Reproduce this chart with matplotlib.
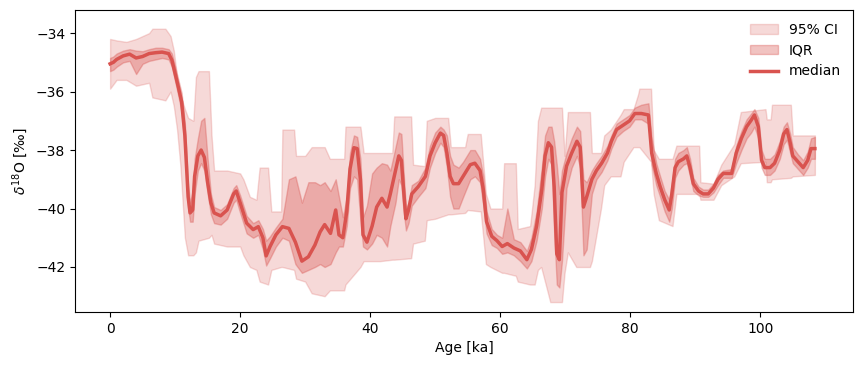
import matplotlib
matplotlib.use("Agg")
import matplotlib.pyplot as plt
import numpy as np

# ── Median + IQR (same age grid) ─────────────────────────────────────────────
AGE = [0.0, 0.5, 1.0, 2.0, 3.0, 4.0, 5.0, 6.0, 7.0, 8.0, 9.0, 9.5, 10.0, 10.5, 11.0, 11.5,
       12.0, 12.3, 12.7, 13.0, 13.5, 14.0, 14.5, 15.0, 15.5, 16.0, 17.0, 18.0, 19.0, 19.4,
       20.0, 21.0, 22.0, 22.8, 23.5, 24.0, 24.6, 25.5, 26.5, 27.5, 28.5, 29.5, 30.5, 31.5,
       32.3, 33.0, 33.9, 34.7, 35.2, 35.8, 36.4, 36.9, 37.5, 38.0, 38.5, 38.9, 39.5, 40.3,
       41.0, 41.8, 42.6, 43.1, 43.9, 44.4, 44.8, 45.1, 45.5, 45.9, 46.4, 47.4, 48.5, 49.2,
       50.0, 50.8, 51.3, 51.8, 52.3, 52.8, 53.6, 54.3, 55.4, 56.1, 56.9, 57.4, 57.9, 58.7,
       59.5, 60.3, 61.1, 62.1, 63.1, 64.1, 64.8, 65.6, 66.4, 66.9, 67.4, 67.9, 68.3, 68.7,
       69.1, 69.5, 70.2, 71.0, 71.8, 72.3, 72.8, 73.3, 74.1, 74.8, 75.6, 76.5, 77.1, 77.9,
       78.9, 79.9, 80.7, 81.7, 82.8, 83.3, 84.0, 84.6, 85.3, 86.0, 86.4, 86.9, 87.4, 88.2,
       88.7, 89.2, 89.7, 90.5, 91.2, 92.0, 92.8, 93.5, 94.3, 95.6, 96.3, 97.1, 97.9, 98.6,
       99.1, 99.7, 100.2, 100.7, 101.5, 102.2, 103.0, 103.6, 104.1, 104.6, 105.0, 105.8,
       106.6, 107.3, 107.8, 108.4]

MEDIAN = [-35.05, -35.0, -34.9, -34.78, -34.72, -34.85, -34.8, -34.7, -34.67, -34.65, -34.7,
          -34.92, -35.38, -35.85, -36.35, -37.5, -39.6, -40.15, -40.05, -38.9, -38.2, -38.0,
          -38.25, -39.1, -39.8, -40.15, -40.25, -40.05, -39.5, -39.4, -39.8, -40.5, -40.72,
          -40.62, -41.0, -41.62, -41.3, -40.9, -40.62, -40.68, -41.15, -41.8, -41.65, -41.25,
          -40.8, -40.55, -40.85, -40.05, -40.9, -41.0, -40.1, -38.65, -37.92, -37.95, -39.0,
          -40.9, -41.15, -40.6, -39.95, -39.65, -39.95, -39.5, -38.7, -38.2, -38.35, -39.25,
          -40.35, -40.05, -39.5, -39.25, -38.9, -38.2, -37.75, -37.42, -37.5, -38.1, -38.9,
          -39.15, -39.15, -38.9, -38.5, -38.45, -38.7, -39.35, -40.45, -40.95, -41.1, -41.3,
          -41.2, -41.35, -41.45, -41.75, -41.4, -40.6, -39.35, -38.2, -37.75, -37.9, -39.25,
          -41.55, -41.75, -39.45, -38.55, -38.1, -37.7, -37.9, -39.95, -39.6, -39.0, -38.7,
          -38.45, -38.1, -37.7, -37.3, -37.15, -37.0, -36.75, -36.75, -36.8, -38.1, -38.8,
          -39.25, -39.7, -40.05, -39.5, -38.6, -38.4, -38.3, -38.2, -38.6, -39.15, -39.4,
          -39.5, -39.5, -39.3, -39.0, -38.8, -38.8, -38.1, -37.6, -37.2, -36.98, -36.8, -37.2,
          -38.35, -38.6, -38.6, -38.45, -38.0, -37.45, -37.3, -37.75, -38.2, -38.4, -38.6,
          -38.35, -37.95, -37.95]

IQR_HI = [-34.85, -34.8, -34.7, -34.6, -34.55, -34.6, -34.62, -34.55, -34.5, -34.5, -34.55,
          -34.7, -35.15, -35.6, -36.05, -37.1, -39.2, -39.8, -39.4, -38.3, -37.6, -37.0,
          -36.9, -38.3, -39.5, -39.95, -40.05, -39.85, -39.3, -39.2, -39.55, -40.25, -40.5,
          -40.4, -40.7, -41.1, -40.95, -40.65, -40.35, -39.0, -38.9, -39.8, -39.1, -39.1,
          -39.2, -39.1, -39.4, -39.0, -39.6, -40.3, -39.6, -38.1, -37.5, -37.55, -38.3,
          -40.3, -39.9, -38.8, -38.6, -38.45, -38.5, -38.7, -37.9, -37.4, -37.45, -38.6,
          -40.0, -39.8, -39.2, -39.05, -38.6, -37.85, -37.4, -37.2, -37.3, -37.5, -38.2,
          -38.5, -38.6, -38.4, -38.0, -38.0, -38.3, -38.9, -40.1, -40.7, -40.9, -41.0,
          -40.0, -41.05, -41.15, -41.45, -41.0, -40.1, -38.6, -37.5, -37.2, -37.2, -37.7,
          -38.5, -39.5, -38.7, -38.1, -37.6, -37.2, -37.35, -39.0, -39.1, -38.7, -38.45,
          -38.2, -37.85, -37.5, -37.1, -36.95, -36.8, -36.55, -36.45, -36.4, -37.6, -38.45,
          -38.9, -39.4, -39.7, -39.15, -38.3, -38.1, -38.0, -37.9, -38.3, -38.95, -39.25,
          -39.35, -39.35, -39.15, -38.85, -38.7, -38.65, -37.85, -37.35, -36.95, -36.75,
          -36.6, -36.9, -38.0, -38.3, -38.3, -38.15, -37.7, -37.2, -37.05, -37.45, -37.9,
          -38.15, -38.35, -38.05, -37.6, -37.55]

IQR_LO = [-35.3, -35.25, -35.15, -35.0, -34.95, -35.4, -35.05, -34.95, -34.9, -34.85, -34.9,
          -35.15, -35.65, -36.15, -36.7, -37.95, -40.0, -40.45, -40.45, -39.5, -38.7, -38.45,
          -38.7, -39.5, -40.2, -40.5, -40.55, -40.35, -39.8, -39.7, -40.15, -40.85, -41.0,
          -40.9, -41.4, -41.95, -41.7, -41.3, -41.0, -41.1, -41.9, -42.2, -42.1, -42.0,
          -41.9, -42.0, -41.9, -41.5, -41.3, -41.3, -40.6, -39.3, -38.9, -39.0, -40.4,
          -41.3, -41.4, -41.2, -40.9, -41.0, -41.3, -40.6, -39.8, -39.0, -39.2, -40.0,
          -40.75, -40.5, -39.9, -39.6, -39.3, -38.6, -38.1, -37.75, -37.9, -38.6, -39.6,
          -40.0, -40.0, -39.6, -39.0, -38.9, -39.1, -39.9, -40.85, -41.25, -41.35, -41.55,
          -41.5, -41.6, -41.8, -42.05, -41.8, -41.1, -40.0, -38.9, -38.3, -38.5, -40.8,
          -42.6, -42.7, -41.8, -39.3, -38.6, -38.2, -38.6, -41.6, -41.4, -39.5, -39.0,
          -38.75, -38.35, -37.95, -37.55, -37.35, -37.2, -36.95, -36.95, -37.1, -38.5, -39.2,
          -39.6, -40.1, -40.45, -40.0, -38.95, -38.7, -38.5, -38.45, -38.9, -39.4, -39.55,
          -39.6, -39.6, -39.45, -39.2, -38.95, -38.95, -38.45, -38.0, -37.6, -37.4, -37.2,
          -37.6, -38.6, -38.85, -38.85, -38.7, -38.3, -37.8, -37.65, -38.1, -38.45, -38.65,
          -38.85, -38.6, -38.3, -38.3]

# ── 95% CI (own age grid, step-like edges) ───────────────────────────────────
CI_AGE = [0.0, 1.0, 2.5, 4.0, 6.0, 6.5, 8.5, 9.3, 9.8, 10.3, 10.8, 11.5, 12.0, 12.8, 13.2,
          13.6, 15.2, 15.6, 16.0, 18.0, 20.0, 20.5, 21.5, 22.5, 23.0, 24.3, 24.8, 26.3, 26.5,
          28.3, 28.6, 30.0, 31.0, 33.0, 33.8, 36.0, 36.2, 38.5, 39.0, 41.5, 43.4, 43.7, 46.3,
          46.6, 48.4, 48.7, 50.0, 52.0, 52.4, 54.6, 55.0, 57.0, 57.8, 58.5, 60.3, 60.6, 62.4,
          62.7, 64.6, 65.3, 65.8, 66.3, 67.7, 69.5, 69.9, 70.4, 71.7, 73.8, 74.1, 75.5, 76.0,
          77.0, 78.5, 79.0, 80.5, 81.2, 81.4, 83.2, 83.6, 84.4, 86.5, 87.1, 90.6, 90.8, 92.8,
          94.0, 96.0, 97.0, 100.8, 101.0, 101.6, 101.8, 104.7, 105.0, 108.4]

CI_HI = [-34.2, -34.25, -34.3, -34.2, -34.0, -33.85, -33.85, -34.1, -34.6, -35.5, -36.1,
         -36.6, -36.9, -37.0, -35.5, -35.3, -35.3, -37.5, -38.7, -38.7, -38.8, -39.0, -39.6,
         -39.7, -38.6, -38.6, -40.1, -40.1, -37.3, -37.3, -38.2, -38.2, -37.9, -37.9, -38.3,
         -38.3, -37.2, -37.2, -38.1, -38.1, -38.1, -36.85, -36.85, -38.5, -38.55, -37.0,
         -36.9, -36.9, -37.9, -37.9, -37.45, -37.45, -39.5, -40.0, -40.0, -38.45, -38.45,
         -40.7, -40.6, -39.2, -37.0, -36.55, -36.55, -36.55, -38.2, -36.7, -36.7, -36.7,
         -38.1, -38.1, -37.5, -37.3, -36.8, -36.6, -36.6, -36.1, -35.9, -35.9, -38.0, -38.3,
         -38.3, -37.85, -37.85, -39.1, -39.15, -38.5, -37.8, -36.7, -36.6, -36.95, -36.95,
         -36.45, -36.45, -37.5, -37.5]

CI_LO = [-35.9, -35.6, -35.6, -35.8, -35.7, -36.2, -36.3, -36.0, -36.5, -37.3, -38.5,
         -41.0, -41.6, -41.6, -41.5, -41.1, -41.0, -40.9, -41.2, -41.3, -41.3, -41.6, -42.0,
         -42.1, -42.5, -42.6, -42.1, -42.0, -42.0, -42.1, -42.4, -42.5, -42.9, -43.0, -42.8,
         -42.8, -42.6, -42.0, -41.8, -41.8, -41.75, -41.75, -41.7, -41.2, -41.1, -40.4,
         -40.35, -40.2, -40.2, -40.15, -40.05, -40.1, -41.9, -42.0, -42.2, -42.2, -42.3,
         -42.5, -42.6, -42.6, -42.1, -42.0, -43.2, -43.2, -42.2, -41.5, -42.0, -42.0, -41.8,
         -40.0, -39.2, -38.9, -38.9, -38.4, -37.9, -37.9, -37.9, -38.4, -39.5, -40.4, -40.6,
         -39.5, -39.5, -39.7, -39.7, -39.2, -38.9, -38.45, -38.4, -39.1, -39.1, -39.0, -38.95,
         -38.9, -38.85]

RED = "#d9534f"

fig = plt.figure(figsize=(8.59, 3.71), dpi=100)
ax = fig.add_axes([0.0873, 0.159, 0.906, 0.814])

ax.fill_between(CI_AGE, CI_LO, CI_HI, color=RED, alpha=0.22, label="95% CI")
ax.fill_between(AGE, IQR_LO, IQR_HI, color=RED, alpha=0.35, label="IQR")
ax.plot(AGE, MEDIAN, color=RED, linewidth=2.5, label="median")

ax.set_xlim(-5.4, 114.3)
ax.set_ylim(-43.54, -33.21)
ax.set_xlabel("Age [ka]")
ax.set_ylabel(r"$\delta^{18}$O [‰]")
ax.legend(loc="upper right", frameon=False)

fig.savefig("out.png", dpi=100, facecolor="white")
